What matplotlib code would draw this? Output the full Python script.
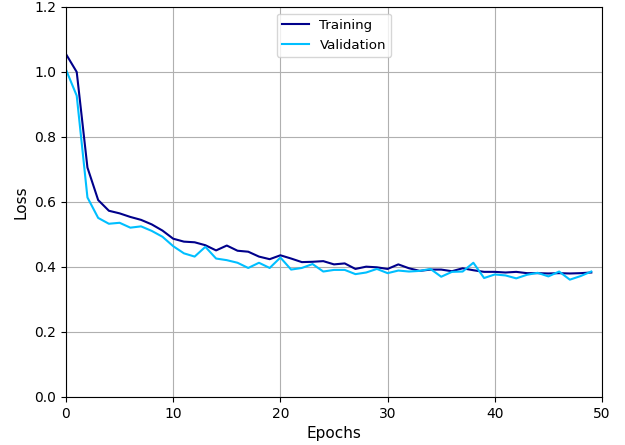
import numpy as np
import matplotlib
matplotlib.use("Agg")
import matplotlib.pyplot as plt

epochs = np.arange(50)

train_loss = [1.055, 1.0, 0.706, 0.606, 0.573, 0.565, 0.554, 0.545, 0.531, 0.512,
              0.487, 0.478, 0.476, 0.467, 0.451, 0.466, 0.450, 0.447, 0.432, 0.424,
              0.436, 0.426, 0.415, 0.416, 0.418, 0.408, 0.411, 0.394, 0.401, 0.399,
              0.394, 0.408, 0.396, 0.388, 0.392, 0.392, 0.387, 0.396, 0.390, 0.385,
              0.385, 0.383, 0.385, 0.381, 0.381, 0.380, 0.381, 0.380, 0.381, 0.383]

val_loss = [1.007, 0.927, 0.614, 0.551, 0.533, 0.536, 0.521, 0.525, 0.511, 0.493,
            0.464, 0.442, 0.432, 0.462, 0.426, 0.421, 0.413, 0.397, 0.413, 0.397,
            0.429, 0.392, 0.397, 0.409, 0.386, 0.391, 0.391, 0.378, 0.383, 0.394,
            0.381, 0.389, 0.386, 0.388, 0.394, 0.370, 0.385, 0.386, 0.413, 0.366,
            0.377, 0.374, 0.365, 0.376, 0.382, 0.371, 0.386, 0.361, 0.372, 0.386]

fig = plt.figure(figsize=(6.25, 4.45), dpi=100)
ax = fig.add_subplot(111)
fig.subplots_adjust(left=0.1056, right=0.9632, top=0.9843, bottom=0.1079)

ax.plot(epochs, train_loss, color="darkblue", label="Training")
ax.plot(epochs, val_loss, color="deepskyblue", label="Validation")

ax.set_xlim(0, 50)
ax.set_ylim(0, 1.2)
ax.set_xlabel("Epochs", fontsize=11)
ax.set_ylabel("Loss", fontsize=11)
ax.grid(True)
ax.legend(loc="upper center", fontsize=9.6)

fig.savefig("out.png", dpi=100)
